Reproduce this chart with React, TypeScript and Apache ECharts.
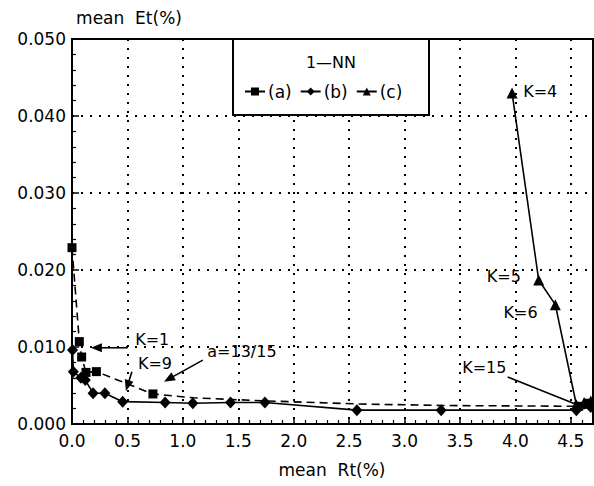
import React, { useEffect, useRef } from "react";
import * as echarts from "echarts";

// ---- data (mean Rt %, mean Et %) ----
const RT_A = [0.0, 0.066, 0.087, 0.126, 0.22, 0.73, 1.1, 1.74, 2.6, 3.35, 4.57, 4.65];
const ET_A = [0.0229, 0.0107, 0.0087, 0.0067, 0.0068, 0.0039, 0.0034, 0.003, 0.0026, 0.0024, 0.0023, 0.0027];
const A_HIDDEN = [6, 7, 8, 9];

const RT_B = [0.005, 0.012, 0.08, 0.12, 0.19, 0.297, 0.457, 0.84, 1.09, 1.43, 1.74, 2.57, 3.33, 4.55, 4.68];
const ET_B = [0.0096, 0.0068, 0.006, 0.0057, 0.004, 0.004, 0.0029, 0.0028, 0.0027, 0.0028, 0.0028, 0.0018, 0.0018, 0.0018, 0.0022];

const RT_C = [3.97, 4.21, 4.36, 4.55, 4.62, 4.68];
const ET_C = [0.043, 0.0187, 0.0155, 0.0025, 0.0028, 0.003];

const SERIES_NAMES = ["(a)", "(b)", "(c)"];
const X_TICKS = [0, 0.5, 1.0, 1.5, 2.0, 2.5, 3.0, 3.5, 4.0, 4.5];

// annotations in data coordinates
const ARROWS = [
  { from: [0.5, 0.0099], to: [0.17, 0.0099], head: true },
  { from: [0.54, 0.0068], to: [0.486, 0.0043], head: true },
  { from: [1.18, 0.0083], to: [0.83, 0.0055], head: true },
  { from: [3.93, 0.0061], to: [4.54, 0.0026], head: false },
];
const LABELS = [
  { text: "K=1", at: [0.57, 0.011], align: "left" },
  { text: "K=9", at: [0.595, 0.0078], align: "left" },
  { text: "a=13/15", at: [1.22, 0.0094], align: "left" },
  { text: "K=4", at: [4.07, 0.0432], align: "left" },
  { text: "K=5", at: [4.05, 0.0191], align: "right" },
  { text: "K=6", at: [4.2, 0.0145], align: "right" },
  { text: "K=15", at: [3.52, 0.0073], align: "left" },
];

const FONT = "DejaVu Sans";

function pairs(xs: number[], ys: number[]) {
  return xs.map((x, i) => [x, ys[i]]);
}

export default function App() {
  const ref = useRef<HTMLDivElement>(null);
  useEffect(() => {
    document.body.style.margin = "0";
    const chart = echarts.init(ref.current!, null, { renderer: "svg" });
    const axisCommon = {
      axisLine: { show: true, onZero: false, lineStyle: { color: "#000", width: 2 } },
      axisTick: { show: true, inside: true, length: 7, lineStyle: { color: "#000", width: 1.5 } },
      minorTick: { show: true, splitNumber: 5, length: 4, lineStyle: { color: "#000", width: 1.2 } },
      splitLine: { show: true, lineStyle: { color: "#000", width: 2, type: [2, 7] } },
    };
    const aData = pairs(RT_A, ET_A).map((p, i) =>
      A_HIDDEN.includes(i) ? { value: p, symbol: "none" } : { value: p }
    );
    chart.setOption({
      animation: false,
      grid: { left: 72, top: 39, right: 1, bottom: 62, show: true, borderColor: "#000", borderWidth: 2 },
      xAxis: {
        type: "value",
        min: 0,
        max: 4.7,
        interval: 0.5,
        ...axisCommon,
        axisLabel: {
          color: "#000",
          fontFamily: FONT,
          fontSize: 17,
          margin: 8,
          showMaxLabel: false,
          formatter: (v: number) =>
            X_TICKS.some((t) => Math.abs(t - v) < 1e-6) ? v.toFixed(1) : "",
        },
      },
      yAxis: {
        type: "value",
        min: 0,
        max: 0.05,
        interval: 0.01,
        ...axisCommon,
        axisLabel: {
          color: "#000",
          fontFamily: FONT,
          fontSize: 17,
          margin: 6,
          formatter: (v: number) => v.toFixed(3),
        },
      },
      legend: {
        data: SERIES_NAMES,
        left: 244,
        top: 83,
        z: 20,
        padding: 0,
        itemWidth: 20,
        itemHeight: 10,
        itemGap: 8,
        textStyle: { color: "#000", fontFamily: FONT, fontSize: 17, padding: [0, 0, 0, -2] },
      },
      series: [
        {
          name: SERIES_NAMES[0],
          type: "line",
          data: aData,
          symbol: "rect",
          symbolSize: 9,
          itemStyle: { color: "#000" },
          lineStyle: { color: "#000", width: 1.6, type: [8, 5] },
        },
        {
          name: SERIES_NAMES[1],
          type: "line",
          data: pairs(RT_B, ET_B),
          symbol: "diamond",
          symbolSize: [11, 12],
          itemStyle: { color: "#000" },
          lineStyle: { color: "#000", width: 1.6 },
        },
        {
          name: SERIES_NAMES[2],
          type: "line",
          data: pairs(RT_C, ET_C),
          symbol: "triangle",
          symbolSize: [11, 11],
          itemStyle: { color: "#000" },
          lineStyle: { color: "#000", width: 1.6 },
        },
      ],
    });

    const px = (p: number[]) => chart.convertToPixel({ gridIndex: 0 }, p) as number[];
    const elements: any[] = [
      {
        type: "rect",
        z: 10,
        shape: { x: 233, y: 39, width: 196, height: 76 },
        style: { fill: "#fff", stroke: "#000", lineWidth: 2 },
      },
      {
        type: "text",
        z: 21,
        x: 331,
        y: 62,
        style: { text: "1—NN", fill: "#000", font: `16px "${FONT}"`, align: "center", verticalAlign: "middle" },
      },
      {
        type: "text",
        x: 129,
        y: 18,
        style: { text: "mean  Et(%)", fill: "#000", font: `17px "${FONT}"`, align: "center", verticalAlign: "middle" },
      },
      {
        type: "text",
        x: 332,
        y: 470,
        style: { text: "mean  Rt(%)", fill: "#000", font: `17px "${FONT}"`, align: "center", verticalAlign: "middle" },
      },
    ];
    ARROWS.forEach((a) => {
      const f = px(a.from);
      const t = px(a.to);
      const dx = t[0] - f[0];
      const dy = t[1] - f[1];
      const len = Math.hypot(dx, dy) || 1;
      const ux = dx / len;
      const uy = dy / len;
      const hl = a.head ? 11 : 0;
      elements.push({
        type: "line",
        z: 15,
        shape: { x1: f[0], y1: f[1], x2: t[0] - ux * hl * 0.8, y2: t[1] - uy * hl * 0.8 },
        style: { stroke: "#000", lineWidth: 1.6 },
      });
      if (a.head) {
        const bx = t[0] - ux * hl;
        const by = t[1] - uy * hl;
        const hw = 4.5;
        elements.push({
          type: "polygon",
          z: 15,
          shape: {
            points: [
              [t[0], t[1]],
              [bx - uy * hw, by + ux * hw],
              [bx + uy * hw, by - ux * hw],
            ],
          },
          style: { fill: "#000" },
        });
      }
    });
    LABELS.forEach((l) => {
      const p = px(l.at);
      elements.push({
        type: "text",
        z: 15,
        x: p[0],
        y: p[1],
        style: { text: l.text, fill: "#000", font: `16px "${FONT}"`, align: l.align, verticalAlign: "middle" },
      });
    });
    chart.setOption({ graphic: { elements } });

    return () => chart.dispose();
  }, []);
  return <div ref={ref} style={{ position: "absolute", left: 0, top: 0, width: 594, height: 486 }} />;
}
